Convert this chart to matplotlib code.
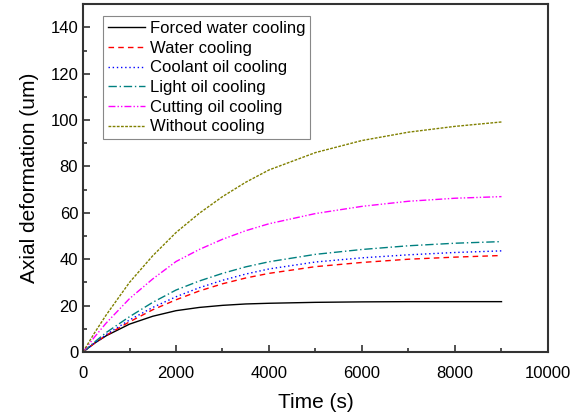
import numpy as np
import matplotlib.pyplot as plt

plt.rcParams["font.family"] = ["Liberation Sans", "DejaVu Sans"]

# 时间点 (s)
t = [0, 250, 500, 1000, 1500, 2000, 2500, 3000, 3500, 4000, 5000, 6000, 7000, 8000, 9000]

# 各冷却方式轴向变形 (um)
forced_water = [0, 3.8, 7.0, 12.0, 15.4, 17.8, 19.2, 20.1, 20.7, 21.0, 21.4, 21.6, 21.7, 21.7, 21.7]
water = [0, 3.8, 7.2, 13.0, 18.2, 22.5, 26.3, 29.4, 31.9, 33.9, 36.8, 38.6, 40.0, 40.9, 41.6]
coolant_oil = [0, 3.9, 7.5, 13.8, 19.2, 23.8, 27.7, 30.9, 33.6, 35.8, 38.8, 40.6, 41.9, 42.9, 43.6]
light_oil = [0, 4.3, 8.4, 15.2, 21.4, 26.7, 30.6, 33.9, 36.7, 38.9, 42.1, 44.2, 45.8, 46.9, 47.6]
cutting_oil = [0, 6.5, 12.5, 23.0, 31.5, 39.0, 44.2, 48.6, 52.3, 55.3, 59.7, 62.8, 65.0, 66.3, 67.0]
without = [0, 8.3, 16.0, 30.0, 41.5, 51.5, 59.8, 67.0, 73.2, 78.5, 86.0, 91.2, 94.8, 97.3, 99.2]

labels = ["Forced water cooling", "Water cooling", "Coolant oil cooling",
          "Light oil cooling", "Cutting oil cooling", "Without cooling"]

fig = plt.figure(figsize=(5.74, 4.18), dpi=100)
ax = fig.add_axes([0.1446, 0.158, 0.8101, 0.832])

lw = 1.0
ax.plot(t, forced_water, color="black", lw=lw, ls="-", label=labels[0])
ax.plot(t, water, color="#FF0000", lw=lw, ls=(0, (4, 3)), label=labels[1])
ax.plot(t, coolant_oil, color="#0000FF", lw=lw, ls=(0, (1, 2)), label=labels[2])
ax.plot(t, light_oil, color="#008080", lw=lw, ls=(0, (6, 2, 1, 2)), label=labels[3])
ax.plot(t, cutting_oil, color="#FF00FF", lw=lw, ls=(0, (5, 1.5, 1, 1.5, 1, 1.5)), label=labels[4])
ax.plot(t, without, color="#808000", lw=lw, ls=(0, (2, 1)), label=labels[5])

ax.set_xlim(0, 10000)
ax.set_ylim(0, 150)
ax.set_xticks(np.arange(0, 10001, 2000))
ax.set_xticks(np.arange(1000, 10000, 2000), minor=True)
ax.set_yticks(np.arange(0, 141, 20))
ax.set_yticks(np.arange(10, 150, 20), minor=True)
ax.tick_params(which="both", direction="in", top=False, right=False,
               labelsize=12, width=1.2, colors="#333333", labelcolor="black")
ax.tick_params(which="major", length=5)
ax.tick_params(which="minor", length=3)
ax.tick_params(axis="x", which="major", pad=10)
for s in ax.spines.values():
    s.set_linewidth(1.5)
    s.set_color("#333333")

ax.set_xlabel("Time (s)", fontsize=15, labelpad=9)
ax.set_ylabel("Axial deformation (um)", fontsize=15, labelpad=8)

leg = ax.legend(loc="upper left", bbox_to_anchor=(0.043, 0.966), borderaxespad=0,
                fontsize=12, fancybox=False, edgecolor="#888888", framealpha=1,
                handlelength=2.2, handletextpad=0.3, labelspacing=0.28, borderpad=0.3)
leg.get_frame().set_linewidth(0.8)

fig.savefig("out.png", dpi=100)
